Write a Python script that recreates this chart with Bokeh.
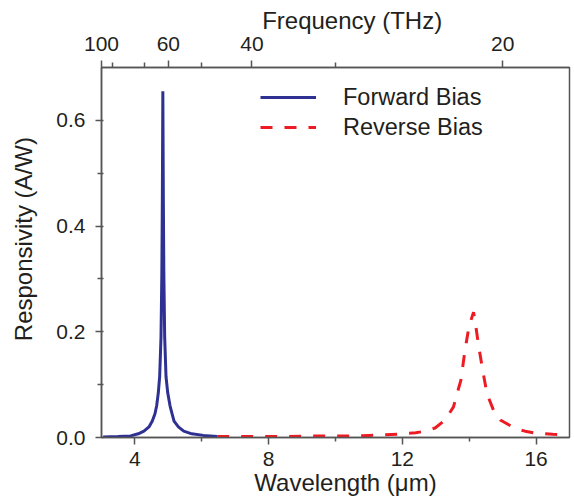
from bokeh.plotting import figure
from bokeh.models import Range1d, LinearAxis, FixedTicker, Legend, LegendItem
from bokeh.embed import file_html
from bokeh.resources import INLINE

# ---- data ----
fwd_wavelength = [3.05, 3.5, 3.87, 4.1, 4.27, 4.42, 4.52, 4.60, 4.65, 4.70, 4.74, 4.78,
                  4.805, 4.82, 4.835, 4.85, 4.865, 4.89, 4.93, 4.98, 5.05, 5.11, 5.17,
                  5.30, 5.46, 5.7, 6.05, 6.46]
fwd_resp = [0.001, 0.002, 0.003, 0.007, 0.012, 0.020, 0.031, 0.045, 0.060, 0.085, 0.115, 0.19,
            0.31, 0.45, 0.655, 0.45, 0.31, 0.19, 0.115, 0.085, 0.060, 0.045, 0.031,
            0.020, 0.012, 0.007, 0.004, 0.002]

rev_wavelength = [6.46, 7.5, 8.5, 9.5, 10.5, 11.0, 11.5, 12.0, 12.4, 12.59, 12.98, 13.28,
                  13.53, 13.61, 13.75, 13.88, 14.0, 14.13, 14.18, 14.28, 14.38, 14.53,
                  14.73, 14.93, 15.38, 15.67, 16.0, 16.5, 17.0]
rev_resp = [0.002, 0.002, 0.002, 0.003, 0.003, 0.004, 0.005, 0.007, 0.009, 0.011, 0.018, 0.033,
            0.058, 0.077, 0.108, 0.168, 0.212, 0.237, 0.218, 0.174, 0.136, 0.083,
            0.051, 0.033, 0.017, 0.012, 0.008, 0.006, 0.005]

x_ticks = [4, 8, 12, 16]
x_minor_ticks = [6, 10, 14]
y_ticks = [0.0, 0.2, 0.4, 0.6]
y_minor_ticks = [0.1, 0.3, 0.5]
y_tick_labels = ["0.0", "0.2", "0.4", "0.6"]
freq_major = [100, 60, 40, 20]      # THz
freq_minor = [90, 70, 50, 30]       # THz
C_UM_THZ = 300.0                    # wavelength(um) = 300 / f(THz)

x_title = "Wavelength (μm)"
y_title = "Responsivity (A/W)"
top_title = "Frequency (THz)"
series_names = ["Forward Bias", "Reverse Bias"]

FONT = "Liberation Sans"
TXT = "#231f20"
AX = "#555555"
BLUE = "#2e3192"
RED = "#ed1c24"
NBSP = "\u00a0"   # used only to nudge the titles off-centre like the reference

p = figure(width=574, height=501, x_range=Range1d(3, 17), y_range=Range1d(0, 0.7),
           output_backend="svg", toolbar_location=None,
           min_border_left=101, min_border_right=5, min_border_top=67, min_border_bottom=64)
p.xgrid.visible = False
p.ygrid.visible = False
p.outline_line_color = AX
p.outline_line_width = 1.5
p.background_fill_color = "white"
p.border_fill_color = "white"

r_fwd = p.line(fwd_wavelength, fwd_resp, line_color=BLUE, line_width=3)
r_rev = p.line(rev_wavelength, rev_resp, line_color=RED, line_width=3, line_dash="12 12")


def style_axis(ax, tick_in, tick_out, minor_in, minor_out, standoff, label, label_standoff):
    ax.axis_line_color = AX
    ax.axis_line_width = 1.5
    ax.major_tick_line_color = AX
    ax.minor_tick_line_color = AX
    ax.major_tick_line_width = 1.5
    ax.minor_tick_line_width = 1.5
    ax.major_tick_in = tick_in
    ax.major_tick_out = tick_out
    ax.minor_tick_in = minor_in
    ax.minor_tick_out = minor_out
    ax.major_label_text_font = FONT
    ax.major_label_text_font_size = "21px"
    ax.major_label_text_color = TXT
    ax.major_label_standoff = standoff
    ax.axis_label = label
    ax.axis_label_text_font = FONT
    ax.axis_label_text_font_size = "24px"
    ax.axis_label_text_font_style = "normal"
    ax.axis_label_text_color = TXT
    ax.axis_label_standoff = label_standoff


xa = p.xaxis[0]
xa.ticker = FixedTicker(ticks=x_ticks, minor_ticks=x_minor_ticks)
style_axis(xa, 0, 7, 0, 4, 7, NBSP * 3 + x_title, 0)

ya = p.yaxis[0]
ya.ticker = FixedTicker(ticks=y_ticks, minor_ticks=y_minor_ticks)
ya.major_label_overrides = {k: v for k, v in zip(y_ticks, y_tick_labels)}
style_axis(ya, 2, 6, 2, 4, 10, NBSP * 4 + y_title, 16)


def key(v):
    return int(v) if float(v).is_integer() else v


top_major = [C_UM_THZ / f for f in freq_major]
top_minor = [C_UM_THZ / f for f in freq_minor]
top = LinearAxis(ticker=FixedTicker(ticks=top_major, minor_ticks=top_minor),
                 major_label_overrides={key(w): str(f) for w, f in zip(top_major, freq_major)})
style_axis(top, 0, 7, 0, 5, 10, NBSP * 5 + top_title, 0)
p.add_layout(top, "above")

legend = Legend(items=[LegendItem(label=series_names[0], renderers=[r_fwd]),
                       LegendItem(label=series_names[1], renderers=[r_rev])],
                location=(159, 295), border_line_color=None, background_fill_alpha=0,
                padding=0, margin=0, spacing=0, glyph_width=56, glyph_height=30,
                label_height=30, label_standoff=27, label_text_font=FONT,
                label_text_font_size="23.5px", label_text_color=TXT)
p.add_layout(legend)

open("out.html", "w").write(file_html(p, INLINE))
